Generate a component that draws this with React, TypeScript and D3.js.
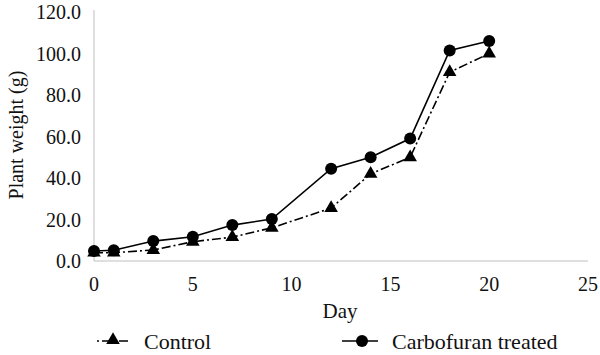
import React from "react";
import * as d3 from "d3";

const days = [0, 1, 3, 5, 7, 9, 12, 14, 16, 18, 20];
const control = [4.0, 4.0, 5.3, 9.3, 11.5, 16.0, 25.5, 42.0, 50.0, 91.0, 100.0];
const carbofuran = [4.8, 5.2, 9.6, 11.7, 17.3, 20.2, 44.5, 50.0, 59.0, 101.5, 106.0];
const xTicks = [0, 5, 10, 15, 20, 25];
const yTicks = [0, 20, 40, 60, 80, 100, 120];
const seriesNames = ["Control", "Carbofuran treated"];

const W = 600, H = 355;
const FONT = "'Liberation Serif', serif";

export default function App() {
  const x = d3.scaleLinear().domain([0, 25]).range([94, 588]);
  const y = d3.scaleLinear().domain([0, 120]).range([261, 12]);
  const line = d3.line<number>().x((_, i) => x(days[i])).y((d) => y(d));
  const tri = d3.symbol().type(d3.symbolTriangle).size(80)();

  return (
    <svg width={W} height={H} style={{ position: "absolute", left: 0, top: 0 }}>
      <rect width={W} height={H} fill="#fff" />
      <line x1={x(0)} x2={x(0)} y1={y(120) - 2} y2={y(0)} stroke="#bfbfbf" strokeWidth={1} />
      <line x1={x(0)} x2={x(25)} y1={y(0)} y2={y(0)} stroke="#bfbfbf" strokeWidth={1} />
      {yTicks.map((t) => (
        <text key={t} x={x(0) - 13} y={y(t)} dy="0.35em" textAnchor="end" fontFamily={FONT} fontSize={20} fill="#111">
          {t.toFixed(1)}
        </text>
      ))}
      {xTicks.map((t) => (
        <text key={t} x={x(t)} y={y(0) + 23} dy="0.35em" textAnchor="middle" fontFamily={FONT} fontSize={20} fill="#111">
          {t}
        </text>
      ))}
      <text x={340} y={318} textAnchor="middle" fontFamily={FONT} fontSize={21} fill="#111">Day</text>
      <text transform={`translate(23,135) rotate(-90)`} textAnchor="middle" fontFamily={FONT} fontSize={20} fill="#111">
        Plant weight (g)
      </text>

      <path d={line(control) || ""} fill="none" stroke="#000" strokeWidth={1.6} strokeDasharray="9,3,2,3" />
      <path d={line(carbofuran) || ""} fill="none" stroke="#000" strokeWidth={1.6} />
      {control.map((v, i) => (
        <path key={"c" + i} d={tri || ""} transform={`translate(${x(days[i])},${y(v)})`} fill="#000" />
      ))}
      {carbofuran.map((v, i) => (
        <circle key={"b" + i} cx={x(days[i])} cy={y(v)} r={6} fill="#000" />
      ))}

      <line x1={96} x2={130} y1={341} y2={341} stroke="#000" strokeWidth={1.6} strokeDasharray="9,3,2,3" strokeDashoffset={-6} />
      <path d={tri || ""} transform={`translate(113,340)`} fill="#000" />
      <text x={144} y={341} dy="0.35em" fontFamily={FONT} fontSize={22} fill="#111">{seriesNames[0]}</text>
      <line x1={342} x2={378} y1={341} y2={341} stroke="#000" strokeWidth={1.6} />
      <circle cx={362} cy={341} r={6} fill="#000" />
      <text x={392} y={341} dy="0.35em" fontFamily={FONT} fontSize={22} fill="#111">{seriesNames[1]}</text>
    </svg>
  );
}
